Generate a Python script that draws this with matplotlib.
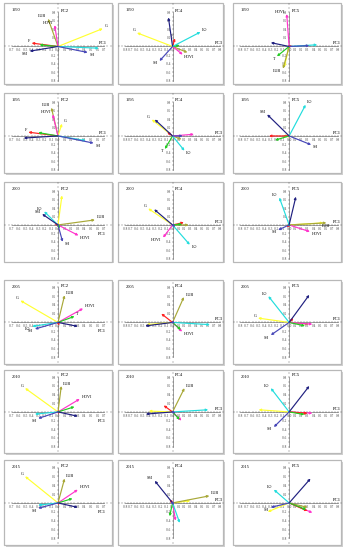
import numpy as np
import matplotlib
matplotlib.use('Agg')
import matplotlib.pyplot as plt
from matplotlib.patches import Rectangle
from matplotlib.ticker import MultipleLocator

plt.rcParams['font.family'] = ['Liberation Serif', 'DejaVu Serif']

# Variables and their colours
names = ['G', 'LUB', 'HDVI', 'F', 'T', 'LO', 'SM', 'SH']
colors = ['#ffff33', '#a8a838', '#ff33cc', '#ff2020', '#22cc22', '#22dddd', '#202080', '#4848b8']
years = ['1990', '1995', '2000', '2005', '2010', '2015']

# Loadings, one row per year, columns follow `names`
# PC1 (x) vs PC2 (y)
pc12_x = [[0.68, -0.15, -0.05, -0.40, -0.28, 0.62, -0.43, 0.45],
          [0.06, -0.10, -0.08, -0.45, -0.30, 0.42, -0.52, 0.54],
          [0.06, 0.56, 0.31, -0.05, 0.03, -0.21, -0.24, 0.07],
          [-0.57, 0.10, 0.38, 0.02, 0.25, -0.39, 0.30, -0.35],
          [-0.50, 0.05, 0.33, 0.02, 0.25, -0.35, 0.30, -0.30],
          [-0.50, 0.10, 0.30, 0.02, 0.22, -0.30, 0.30, -0.30]]
pc12_y = [[0.42, 0.65, 0.50, 0.08, 0.04, -0.04, -0.11, -0.14],
          [0.29, 0.67, 0.51, 0.09, 0.08, -0.11, -0.05, -0.17],
          [0.70, 0.12, -0.25, 0.02, -0.08, 0.32, 0.26, -0.40],
          [0.50, 0.62, 0.32, -0.07, 0.14, -0.09, -0.09, -0.15],
          [0.55, 0.60, 0.30, -0.05, 0.12, -0.05, -0.10, -0.15],
          [0.60, 0.55, 0.30, -0.05, 0.10, -0.05, -0.10, -0.12]]
# PC3 (x) vs PC4 (y)
pc34_x = [[-0.60, 0.25, 0.17, 0.04, 0.12, 0.47, -0.07, -0.22],
          [-0.35, 0.15, 0.36, -0.09, -0.13, 0.20, -0.30, 0.17],
          [-0.41, 0.27, -0.16, 0.19, 0.16, 0.29, -0.31, 0.05],
          [-0.44, 0.19, 0.16, -0.19, 0.14, 0.63, -0.46, -0.03],
          [-0.40, 0.20, 0.15, -0.15, 0.12, 0.60, -0.45, 0.05],
          [0.30, 0.62, 0.05, -0.05, -0.05, 0.12, -0.30, 0.02]]
pc34_y = [[0.32, -0.14, -0.19, 0.19, 0.03, 0.34, 0.68, -0.34],
          [0.39, -0.08, 0.04, 0.09, -0.31, -0.35, 0.39, 0.00],
          [0.39, 0.00, -0.30, 0.06, 0.02, -0.47, 0.37, -0.04],
          [-0.05, 0.58, -0.21, 0.20, -0.17, -0.05, -0.08, -0.02],
          [0.02, 0.55, -0.20, 0.15, -0.18, 0.05, -0.05, -0.03],
          [0.05, 0.16, -0.40, 0.08, -0.30, -0.45, 0.50, -0.05]]
# PC1 (x) vs PC5 (y)
pc15_x = [[-0.08, -0.10, -0.04, 0.05, -0.20, 0.46, -0.30, 0.33],
          [0.03, -0.10, -0.05, -0.33, -0.23, 0.27, -0.36, 0.36],
          [0.56, 0.61, 0.34, -0.04, 0.03, -0.16, 0.11, -0.18],
          [-0.51, 0.32, 0.38, 0.07, 0.26, -0.34, 0.33, -0.30],
          [-0.50, 0.30, 0.38, 0.30, 0.25, -0.30, 0.33, -0.25],
          [-0.35, 0.30, 0.38, 0.30, 0.28, -0.25, 0.35, -0.30]]
pc15_y = [[-0.48, -0.52, 0.76, 0.02, -0.23, 0.04, 0.09, 0.02],
          [0.01, 0.00, 0.00, 0.00, -0.10, 0.74, 0.51, -0.21],
          [0.05, 0.05, -0.16, -0.06, -0.03, 0.65, 0.67, -0.12],
          [0.10, -0.04, -0.04, 0.10, -0.08, 0.60, 0.63, -0.29],
          [0.05, -0.04, -0.03, -0.03, -0.06, 0.55, 0.60, -0.35],
          [-0.20, -0.10, -0.22, -0.18, -0.15, 0.30, 0.55, -0.10]]

# which arrows carry a text label
pc12_lab = [['G', 'LUB', 'HDVI', 'F', 'SM', 'SH'], ['LUB', 'HDVI', 'G', 'F', 'SH'],
            ['LUB', 'LO', 'SM', 'HDVI', 'SH'], ['G', 'LUB', 'HDVI', 'T', 'LO', 'SH'],
            ['G', 'LUB', 'HDVI', 'SH'], ['G', 'LUB', 'HDVI', 'SH']]
pc34_lab = [['G', 'F', 'LO', 'SH', 'HDVI'], ['G', 'T', 'LO'], ['G', 'HDVI', 'LO'],
            ['LUB', 'HDVI'], ['LUB'], ['SM', 'LUB']]
pc15_lab = [['HDVI', 'T', 'LUB'], ['LO', 'SM', 'SH'], ['LO', 'LUB', 'HDVI', 'SH'],
            ['LO', 'G', 'SH'], ['LO', 'SH'], ['LO', 'SH']]

panels = [(pc12_x, pc12_y, pc12_lab, 'PC1', 'PC2', 0.7),
          (pc34_x, pc34_y, pc34_lab, 'PC3', 'PC4', 0.8),
          (pc15_x, pc15_y, pc15_lab, 'PC1', 'PC5', 0.8)]

W, H = 349, 550
row_top = [3, 93, 182, 280, 370, 460]
row_h = [81, 80, 80, 84, 83, 85]
col_left = [4, 118, 233]
col_w = [108, 105, 108]

fig = plt.figure(figsize=(W / 100, H / 100), dpi=100)

for r, yr in enumerate(years):
    for c, (px, py, plab, xl, yl, xm) in enumerate(panels):
        # drop shadow behind the framed panel
        fig.add_artist(Rectangle(((col_left[c] + 1.5) / W, 1 - (row_top[r] + row_h[r] + 1.5) / H),
                                 col_w[c] / W, row_h[r] / H, transform=fig.transFigure,
                                 fc='#d0d0d0', ec='none', zorder=0))
        ax = fig.add_axes([col_left[c] / W, 1 - (row_top[r] + row_h[r]) / H,
                           col_w[c] / W, row_h[r] / H])
        ax.set_xlim(-xm - 0.12, xm + 0.12 if c == 0 else xm + 0.05)
        if r < 3:
            ax.set_ylim(-0.88, 1.02)
        else:
            ax.set_ylim(-0.95, 0.97)

        for s in ['top', 'right']:
            ax.spines[s].set_visible(False)
        ax.spines['left'].set_position('zero')
        ax.spines['bottom'].set_position('zero')
        ax.spines['bottom'].set_bounds(-xm, xm)
        ax.spines['left'].set_bounds(-0.8, 0.8)
        for s in ['left', 'bottom']:
            ax.spines[s].set_linewidth(0.4)
            ax.spines[s].set_color('#555555')

        xt = np.round(np.arange(-xm, xm + 0.01, 0.1), 1)
        ax.set_xticks(xt)
        ax.set_xticklabels(['%.1f' % v for v in xt])
        yt = [-0.8, -0.6, -0.4, -0.2, 0.2, 0.4, 0.6, 0.8]
        ax.set_yticks(yt)
        ax.set_yticklabels(['%.1f' % v for v in yt])
        ax.xaxis.set_minor_locator(MultipleLocator(0.05))
        ax.yaxis.set_minor_locator(MultipleLocator(0.1))
        ax.tick_params(which='major', direction='inout', length=1.6, width=0.3,
                       labelsize=2.4, pad=0.5, colors='#444444')
        ax.tick_params(which='minor', direction='inout', length=0.9, width=0.25,
                       colors='#444444')
        ax.patch.set_facecolor('white')

        ax.add_patch(Rectangle((0, 0), 1, 1, transform=ax.transAxes, fill=False,
                               ec='#b8b8b8', lw=0.9, clip_on=False))

        ax.text(0.07, 0.9, yr, transform=ax.transAxes, fontsize=3.2)
        ax.text(0.04, 0.82, yl, fontsize=3.4)
        if c == 0 and r >= 2:
            ax.text(xm - 0.1, -0.16, xl, fontsize=3.4, va='top')
        else:
            ax.text(xm - 0.08, 0.05, xl, fontsize=3.4)

        for i, nm in enumerate(names):
            x, y = px[r][i], py[r][i]
            ax.annotate('', xy=(x, y), xytext=(0, 0),
                        arrowprops=dict(arrowstyle='-|>', color=colors[i], lw=0.85,
                                        mutation_scale=3, shrinkA=0, shrinkB=0))
            if nm in plab[r]:
                dx = -1.2 if x < 0.05 else 1.2
                ha = 'right' if x < 0.05 else 'left'
                if x > 0.5 and abs(y) < 0.1:
                    # long vector along the axis: label sits just under the tip
                    dx, dy, va, ha = 0, -1.0, 'top', 'center'
                elif y > 0.05:
                    dy, va = 0.3, 'bottom'
                elif y < -0.05:
                    dy, va = -0.3, 'top'
                else:
                    dy, va = 0, 'center'
                ax.annotate(nm, xy=(x, y), xytext=(dx, dy),
                            textcoords='offset points', fontsize=3, ha=ha, va=va)

fig.savefig('out.png', dpi=100)
